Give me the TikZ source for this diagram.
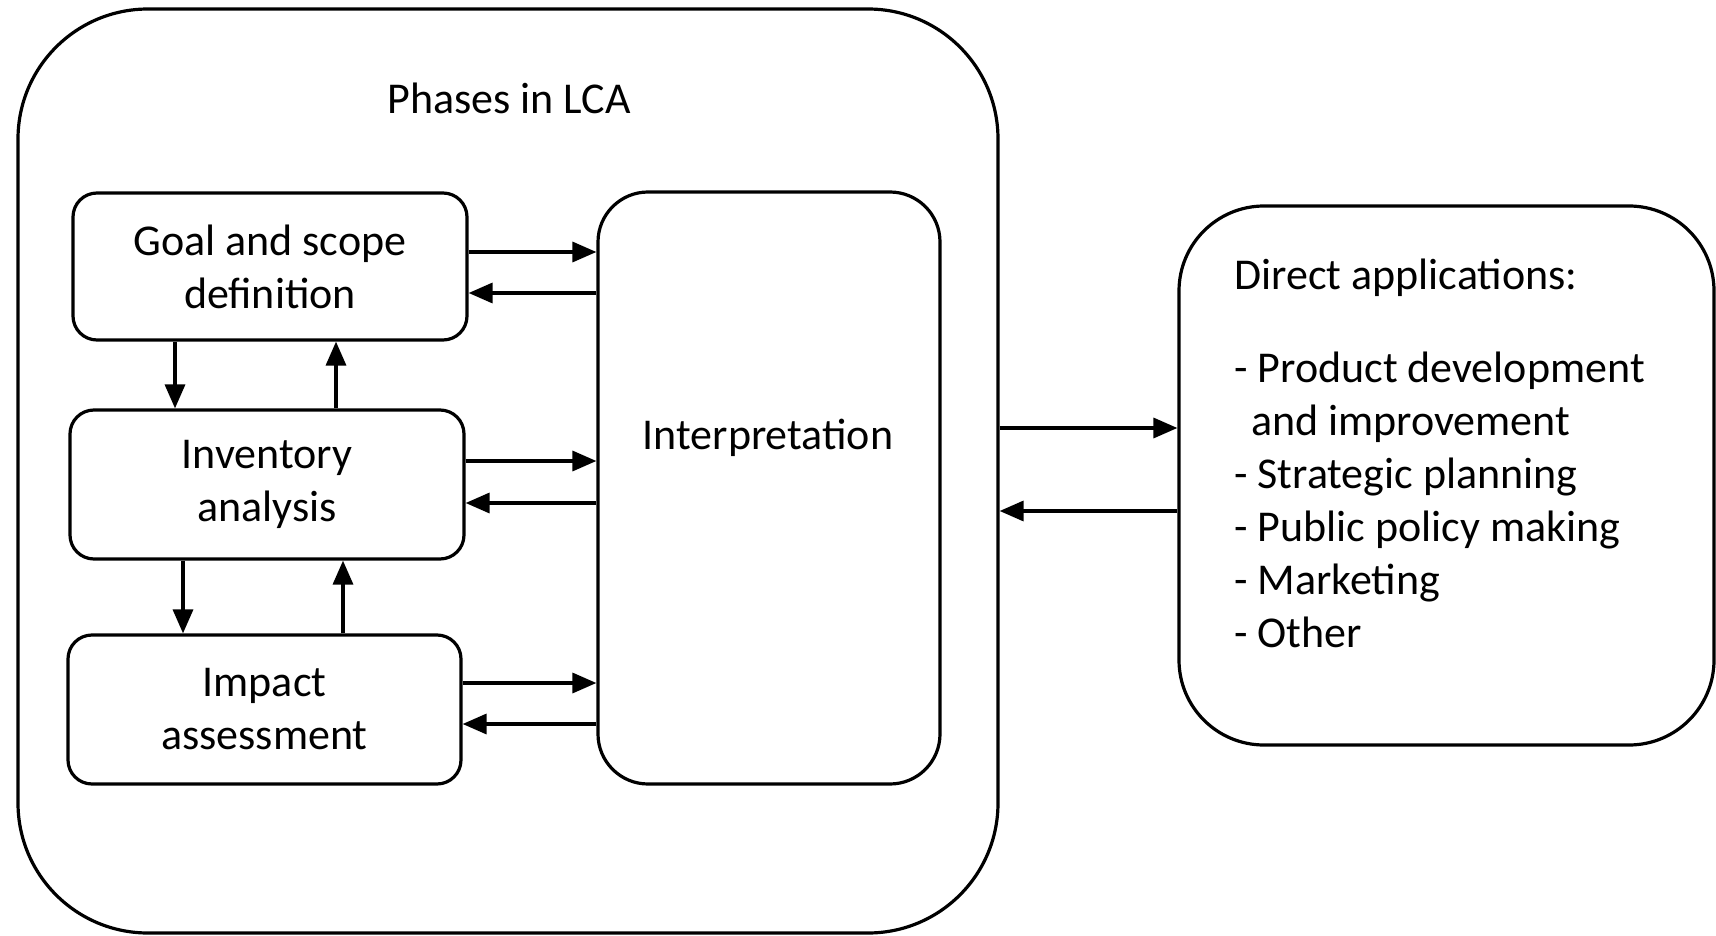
\documentclass[tikz,border=0pt]{standalone}
\usepackage{fontspec}
\setmainfont{Carlito}
\usetikzlibrary{arrows.meta}
\begin{document}
\begin{tikzpicture}[x=1pt,y=-1pt,
  every node/.style={font=\fontsize{44}{53}\selectfont, text=black},
  box/.style={draw, line width=3.2pt, inner sep=0pt, align=center},
  arr/.style={line width=3.4pt, -{Triangle[length=24pt,width=20pt]}}]
\useasboundingbox (0,0) rectangle (1716,936);
% outer container
\node[box, rounded corners=130pt, minimum width=980pt, minimum height=924pt] (outer) at (508,471) {};
\node (title) at (509,98) {Phases in LCA};
% phase boxes
\node[box, rounded corners=24pt, minimum width=394pt, minimum height=147pt] (goal) at (270,266.5) {Goal and scope\\definition};
\node[box, rounded corners=24pt, minimum width=394pt, minimum height=149pt] (inv) at (267,484.5) {Inventory\\analysis};
\node[box, rounded corners=24pt, minimum width=393pt, minimum height=149pt] (imp) at (264.5,709.5) {Impact\\assessment};
\node[box, rounded corners=50pt, minimum width=342pt, minimum height=592pt] (interp) at (769,488) {};
\node (interplabel) at (768,438) {Interpretation};
% direct applications
\node[box, rounded corners=85pt, minimum width=535pt, minimum height=539pt] (direct) at (1446.5,475.5) {};
\node[anchor=north west, inner sep=0pt, align=left] (directtext) at (1234,259) {Direct applications:\\[40pt]
- Product development\\
\hspace*{17pt}and improvement\\
- Strategic planning\\
- Public policy making\\
- Marketing\\
- Other};
% horizontal arrows
\draw[arr] (goal.east |- 0,252) -- (interp.west |- 0,252);
\draw[arr] (interp.west |- 0,293) -- (goal.east |- 0,293);
\draw[arr] (inv.east |- 0,461) -- (interp.west |- 0,461);
\draw[arr] (interp.west |- 0,503) -- (inv.east |- 0,503);
\draw[arr] (imp.east |- 0,683) -- (interp.west |- 0,683);
\draw[arr] (interp.west |- 0,724) -- (imp.east |- 0,724);
% vertical arrows
\draw[arr] (goal.south -| 175,0) -- (inv.north -| 175,0);
\draw[arr] (inv.north -| 336,0) -- (goal.south -| 336,0);
\draw[arr] (inv.south -| 183,0) -- (imp.north -| 183,0);
\draw[arr] (imp.north -| 343,0) -- (inv.south -| 343,0);
% outer <-> direct
\draw[arr] (outer.east |- 0,428) -- (direct.west |- 0,428);
\draw[arr] (direct.west |- 0,511) -- (outer.east |- 0,511);
\end{tikzpicture}
\end{document}
